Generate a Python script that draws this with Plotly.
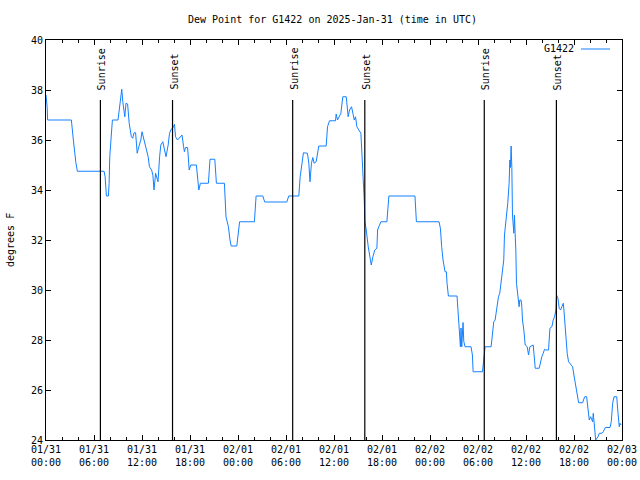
import pandas as pd
import plotly.graph_objects as go

start = pd.Timestamp("2025-01-31 00:00")

hours = [0.0, 0.15, 0.2, 3.17, 3.42, 3.55, 3.72, 3.92, 7.26, 7.39, 7.47, 7.55, 7.8, 7.89, 7.97, 8.1, 8.3,
         9.0, 9.1, 9.22, 9.39, 9.47, 9.6, 9.77, 9.85, 10.0, 10.2, 10.4, 10.67, 10.84, 11.0, 11.2, 11.4, 11.6,
         11.85, 12.0, 12.27, 12.5, 12.77, 12.93, 13.2, 13.36, 13.5, 13.7, 13.85, 14.0, 14.2, 14.35, 14.6,
         14.77, 15.0, 15.27, 15.44, 15.6, 15.77, 15.94, 16.06, 16.19, 16.44, 17.0, 17.2, 17.3, 17.45, 17.7,
         17.9, 18.1, 18.8, 19.1, 19.3, 20.3, 20.5, 21.1, 21.3, 22.3, 22.5, 22.8, 23.0, 23.15, 23.85, 24.06,
         24.2, 26.05, 26.26, 27.1, 27.34, 30.1, 30.34, 31.6, 31.77, 32.0, 32.18, 32.68, 32.85, 33.0, 33.18,
         33.35, 33.52, 33.77, 33.93, 34.1, 35.02, 35.19, 35.44, 36.19, 36.27, 36.44, 36.86, 37.1, 37.53,
         37.6, 37.77, 37.94, 38.19, 38.36, 38.53, 38.69, 38.86, 39.1, 39.36, 39.53, 39.7, 39.78, 39.86,
         40.03, 40.28, 40.45, 40.66, 40.86, 41.1, 41.36, 41.45, 41.6, 41.86, 42.61, 42.86, 46.12, 46.3,
         49.13, 49.3, 49.46, 49.63, 49.88, 50.05, 50.13, 50.3, 51.38, 51.55, 51.72, 51.8, 51.88, 51.97,
         52.13, 52.22, 52.38, 53.13, 53.3, 53.39, 54.56, 54.72, 54.8, 54.89, 55.64, 55.8, 55.97, 56.14,
         56.39, 56.56, 56.72, 56.89, 57.06, 57.22, 57.31, 57.47, 57.64, 57.72, 57.89, 57.98, 58.06, 58.14,
         58.23, 58.31, 58.48, 58.56, 58.64, 58.73, 58.81, 58.98, 59.14, 59.23, 59.39, 59.48, 59.56, 59.73,
         59.9, 60.15, 60.32, 60.48, 60.9, 61.07, 61.15, 61.65, 61.82, 61.98, 62.15, 62.32, 62.48, 62.82,
         62.99, 63.24, 63.4, 63.57, 63.74, 63.82, 63.99, 64.15, 64.32, 64.49, 64.66, 64.74, 64.9, 65.15,
         65.32, 65.58, 65.83, 65.99, 66.16, 66.33, 66.58, 67.08, 67.33, 67.58, 67.74, 67.91, 68.08, 68.33,
         68.41, 68.58, 68.71, 69.0, 69.16, 69.5, 69.66, 69.91, 70.5, 70.66, 70.83, 71.0, 71.34, 71.5,
         71.66, 71.75, 71.87]

dewpoint = [37.8, 37.3, 36.8, 36.8, 36.0, 35.47, 35.13, 34.75, 34.75, 34.53, 34.27, 33.76, 33.76, 34.27,
            35.33, 36.0, 36.8, 36.8, 37.07, 37.6, 37.87, 38.03, 37.53, 37.2, 36.93, 37.47, 37.44, 36.67,
            36.13, 36.07, 36.29, 36.29, 35.47, 35.73, 36.0, 36.33, 36.0, 35.73, 35.33, 34.93, 34.8, 34.6,
            34.0, 34.67, 34.53, 34.33, 35.33, 35.8, 35.93, 35.67, 35.33, 35.8, 36.27, 36.4, 36.47, 36.53,
            36.63, 36.13, 36.0, 36.2, 35.73, 35.53, 35.7, 35.7, 34.8, 35.0, 35.0, 34.0, 34.27, 34.27, 35.23,
            35.23, 34.27, 34.27, 32.93, 32.53, 32.0, 31.76, 31.76, 32.4, 32.73, 32.73, 33.76, 33.76, 33.52,
            33.52, 33.76, 33.76, 34.53, 35.07, 35.49, 35.47, 35.07, 34.33, 35.07, 35.3, 35.07, 35.13, 35.4,
            35.76, 35.76, 36.53, 36.77, 36.77, 37.04, 36.8, 37.07, 37.73, 37.73, 37.47, 36.93, 37.2, 37.33,
            37.07, 36.8, 36.93, 36.53, 36.4, 36.27, 35.2, 34.27, 33.6, 32.73, 32.4, 31.73, 31.33, 31.0,
            31.33, 31.6, 31.67, 32.4, 32.53, 32.73, 32.73, 33.76, 33.76, 32.73, 32.73, 32.47, 31.73, 31.2,
            30.73, 30.73, 30.27, 29.76, 29.76, 29.0, 28.48, 27.73, 28.48, 27.73, 28.7, 27.95, 27.73, 27.73,
            27.4, 26.73, 26.73, 27.2, 27.5, 27.73, 27.73, 28.27, 28.73, 28.8, 29.47, 29.73, 29.87, 30.33,
            30.73, 31.2, 32.2, 32.73, 33.0, 33.47, 34.27, 35.2, 34.9, 35.76, 34.9, 33.0, 32.27, 33.0, 32.27,
            31.6, 30.27, 29.73, 29.33, 29.6, 29.6, 29.33, 28.8, 28.4, 27.8, 27.73, 27.4, 27.73, 27.8, 27.2,
            26.87, 26.87, 27.2, 27.33, 27.47, 27.63, 27.6, 27.6, 28.47, 28.53, 28.8, 28.93, 29.2, 29.8,
            29.67, 29.27, 29.2, 29.33, 29.47, 29.2, 28.4, 27.47, 27.13, 27.0, 26.93, 26.6, 26.27, 25.93,
            25.49, 25.49, 25.73, 25.73, 25.2, 24.8, 24.93, 24.73, 25.07, 24.27, 24.0, 24.13, 24.27, 24.27,
            24.33, 24.5, 24.5, 24.73, 25.47, 25.73, 25.73, 25.07, 24.53, 24.67, 24.6]

sun_events = ["Sunrise", "Sunset", "Sunrise", "Sunset", "Sunrise", "Sunset"]
sun_times = ["2025-01-31 06:48", "2025-01-31 15:49", "2025-02-01 06:50", "2025-02-01 15:51",
             "2025-02-02 06:47", "2025-02-02 15:48"]

tick_times = pd.date_range("2025-01-31 00:00", "2025-02-03 00:00", freq="6h")
tick_text = [t.strftime("%m/%d") + "<br>" + t.strftime("%H:%M") for t in tick_times]
y_ticks = [24, 26, 28, 30, 32, 34, 36, 38, 40]

times = [start + pd.Timedelta(hours=h) for h in hours]

FONT = "DejaVu Sans Mono"
LINE_COLOR = "rgb(20,128,255)"
W, H = 640, 480
L, R, T, B = 46, 18, 40, 40
PW, PH = W - L - R, H - T - B


def px(x):
    return (x - L) / PW


def py(y):
    return (H - B - y) / PH


fig = go.Figure()
fig.add_trace(go.Scatter(x=times, y=dewpoint, mode="lines", name="G1422",
                         line=dict(color=LINE_COLOR, width=1), showlegend=False))

for ev, tm in zip(sun_events, sun_times):
    fig.add_shape(type="line", xref="x", yref="y", x0=tm, x1=tm, y0=24, y1=37.6,
                  line=dict(color="black", width=1.2))
    fig.add_annotation(x=tm, y=37.92, xref="x", yref="y", text=ev, textangle=-90,
                       showarrow=False, xanchor="center", yanchor="bottom", xshift=1,
                       font=dict(family=FONT, size=10, color="black"))

# legend (gnuplot style: text then sample)
fig.add_annotation(x=px(576), y=py(49), xref="paper", yref="paper", text="G1422", showarrow=False,
                   xanchor="right", yanchor="middle", font=dict(family=FONT, size=10, color="black"))
fig.add_shape(type="line", xref="paper", yref="paper", x0=px(581), x1=px(610),
              y0=py(49), y1=py(49), line=dict(color=LINE_COLOR, width=1))

# title and y-axis title as positioned text
fig.add_annotation(x=px(332), y=py(19), xref="paper", yref="paper",
                   text="Dew Point for G1422 on 2025-Jan-31 (time in UTC)", showarrow=False,
                   xanchor="center", yanchor="middle", font=dict(family=FONT, size=10, color="black"))
fig.add_annotation(x=px(10), y=py(240), xref="paper", yref="paper", text="degrees F", textangle=-90,
                   showarrow=False, xanchor="center", yanchor="middle",
                   font=dict(family=FONT, size=10, color="black"))

fig.update_layout(
    width=W, height=H,
    margin=dict(l=L, r=R, t=T, b=B, autoexpand=False),
    paper_bgcolor="white", plot_bgcolor="white",
    font=dict(family=FONT, size=10, color="black"),
    xaxis=dict(type="date", range=["2025-01-31 00:00", "2025-02-03 00:00"], automargin=False,
               tickvals=tick_times, ticktext=tick_text, ticks="inside", ticklen=5,
               tickcolor="black", showgrid=False, zeroline=False, showline=True,
               linecolor="black", linewidth=1, mirror="allticks",
               minor=dict(dtick=2 * 3600000, tick0="2025-01-31", ticks="inside", ticklen=3,
                          tickcolor="black", showgrid=False),
               tickfont=dict(family=FONT, size=10, color="black")),
    yaxis=dict(range=[24, 40], tickvals=y_ticks, ticks="inside", ticklen=5, tickcolor="black",
               automargin=False, showgrid=False, zeroline=False, showline=True, linecolor="black",
               linewidth=1, mirror="allticks",
               tickfont=dict(family=FONT, size=10, color="black")),
)

fig.write_html("out.html", config={"displayModeBar": False},
               post_script="document.body.style.margin='0';")
